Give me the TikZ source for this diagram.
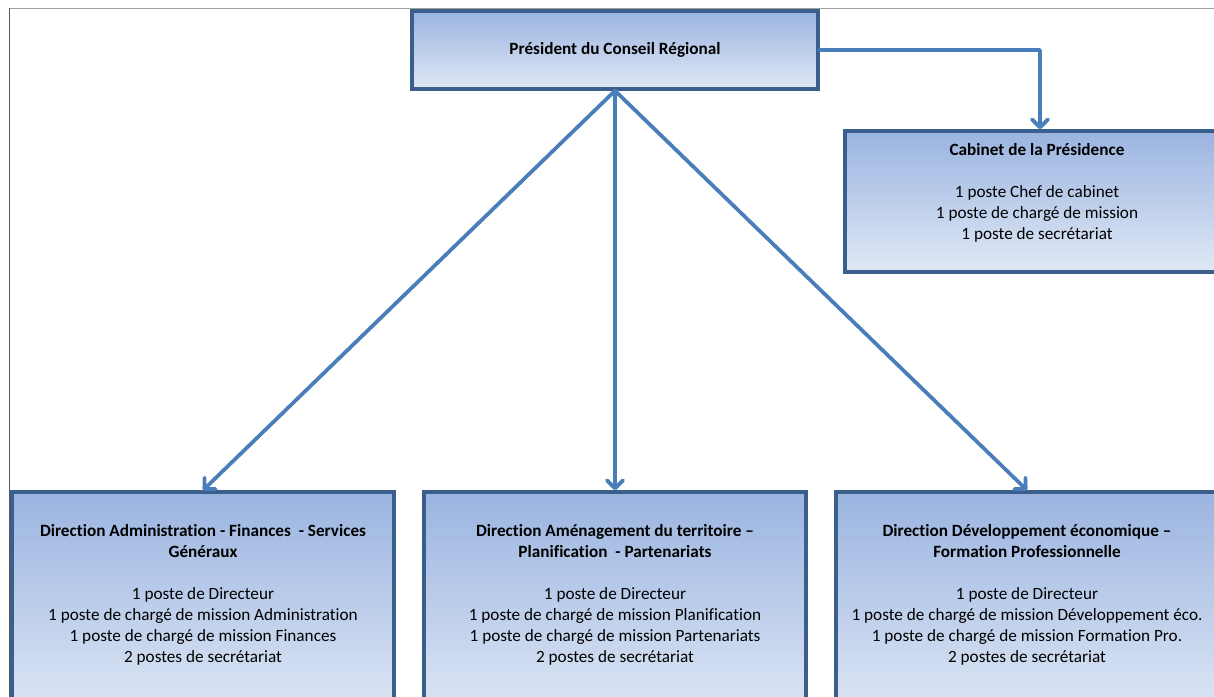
\documentclass[tikz,border=0pt]{standalone}
\usepackage{fontspec}
\setmainfont{Carlito}[Ligatures=NoCommon]
\usetikzlibrary{arrows.meta}
\definecolor{boxborder}{HTML}{3A5F8D}
\definecolor{arrowblue}{HTML}{4A7EBB}
\definecolor{fillTop}{HTML}{9AB4E0}
\definecolor{fillBot}{HTML}{E0E8F5}
\definecolor{frameTop}{HTML}{A0A0A0}
\definecolor{frameLeft}{HTML}{5A5A5A}
\tikzset{
  orgbox/.style={draw=boxborder, line width=3.5bp, rectangle, top color=fillTop, bottom color=fillBot, inner sep=0pt},
  orgtext/.style={align=center, font=\fontsize{17.2bp}{21bp}\selectfont, inner sep=0pt},
  link/.style={draw=arrowblue, line width=3.75bp, line cap=round, line join=round,
    -{Straight Barb[length=8bp,width=16bp,line width=3.75bp,round]}},
}
\begin{document}
\begin{tikzpicture}[x=1bp,y=-1bp]
\useasboundingbox (0,0) rectangle (1214,697);
\clip (0,0) rectangle (1214,697);
\fill[white] (0,0) rectangle (1214,697);
% frame lines
\draw[frameTop, line width=1.5bp] (9,8.5) -- (1214,8.5);
\draw[frameLeft, line width=1bp] (9.5,8) -- (9.5,697);
% boxes
\node[orgbox, minimum width=406bp, minimum height=78bp] (pres) at (615,50) {};
\node[orgbox, minimum width=390bp, minimum height=141bp] (cab) at (1040,201.5) {};
\node[orgbox, minimum width=382bp, minimum height=230bp] (dafsg) at (203,607) {};
\node[orgbox, minimum width=382bp, minimum height=230bp] (datpp) at (615,607) {};
\node[orgbox, minimum width=382bp, minimum height=230bp] (ddefp) at (1027,607) {};
% texts
\node[orgtext] (presT) at (615,50) {\textbf{Président du Conseil Régional}};
\node[orgtext] (cabT) at (1037,192.5) {\textbf{Cabinet de la Présidence}\\[21bp]1 poste Chef de cabinet\\1 poste de chargé de mission\\1 poste de secrétariat};
\node[orgtext] (dafsgT) at (203,594.5) {\textbf{Direction Administration - Finances\ \ - Services}\\\textbf{Généraux}\\[21bp]1 poste de Directeur\\1 poste de chargé de mission Administration\\1 poste de chargé de mission Finances\\2 postes de secrétariat};
\node[orgtext] (datppT) at (615,594.5) {\textbf{Direction Aménagement du territoire –}\\\textbf{Planification\ \ - Partenariats}\\[21bp]1 poste de Directeur\\1 poste de chargé de mission Planification\\1 poste de chargé de mission Partenariats\\2 postes de secrétariat};
\node[orgtext] (ddefpT) at (1027,594.5) {\textbf{Direction Développement économique –}\\\textbf{Formation Professionnelle}\\[21bp]1 poste de Directeur\\1 poste de chargé de mission Développement éco.\\1 poste de chargé de mission Formation Pro.\\2 postes de secrétariat};
% connectors
\coordinate (pb) at (pres.south);
\draw[link] (pb) -- (dafsg.north);
\draw[link] (pb) -- (datpp.north);
\draw[link] (pb) -- (ddefp.north);
\draw[link] (pres.east) -| (cab.north);
\end{tikzpicture}
\end{document}
